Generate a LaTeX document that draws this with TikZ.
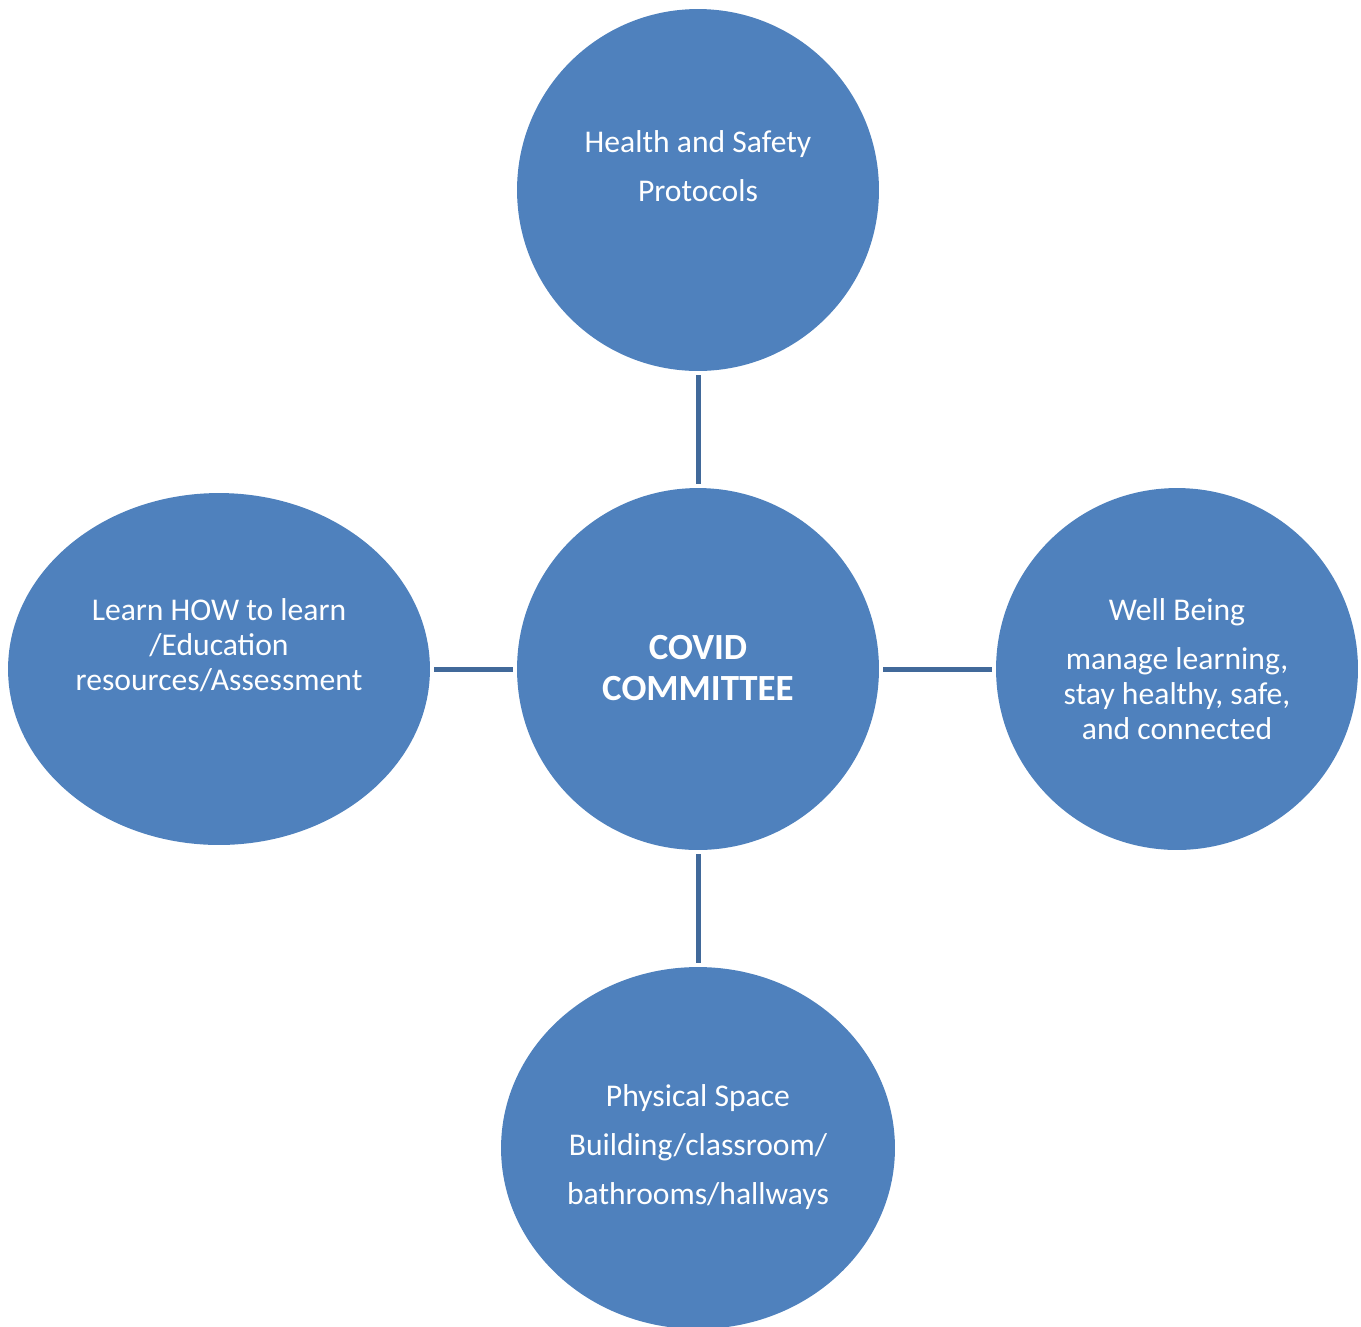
\documentclass[tikz,border=0pt]{standalone}
\usepackage{fontspec}
\setmainfont{Carlito}
\usetikzlibrary{shapes.geometric}
\definecolor{bubblefill}{HTML}{4F81BD}
\definecolor{linkline}{HTML}{41699A}
\tikzset{
  bubble/.style={ellipse,fill=bubblefill,inner sep=0pt,
    minimum width=7.24cm,minimum height=7.24cm},
  bubbletext/.style={text=white,align=center,inner sep=0pt,
    font=\fontsize{18}{20}\selectfont},
  link/.style={draw=linkline,line width=2.85pt,shorten <=0.08cm,shorten >=0.08cm}
}
\begin{document}
\begin{tikzpicture}[x=0.02cm,y=-0.02cm]
\useasboundingbox (0,0) rectangle (1361,1326);
\clip (0,0) rectangle (1361,1326);

% bubbles
\node[bubble] (safety) at (698,190) {};
\node[bubble] (covid) at (698,669) {};
\node[bubble] (wellbeing) at (1177,669) {};
\node[bubble,minimum width=8.44cm,minimum height=7.04cm] (learn) at (219,669) {};
\node[bubble,minimum width=7.88cm] (space) at (698,1148) {};

% texts
\node[bubbletext] (safetytext) at (698,166) {Health and Safety\\[8pt]Protocols};
\node[bubbletext,font=\fontsize{21}{23}\selectfont\bfseries] (covidtext) at (698,668) {COVID\\COMMITTEE};
\node[bubbletext] (wellbeingtext) at (1177,669) {Well Being\\[8pt]manage learning,\\stay healthy, safe,\\and connected};
\node[bubbletext] (learntext) at (219,645) {Learn HOW to learn\\/Education\\resources/Assessment};
\node[bubbletext] (spacetext) at (698,1147) {Physical Space\\[8pt]Building/classroom/\\[8pt]bathrooms/hallways};

% connectors
\draw[link] (covid) -- (safety);
\draw[link] (covid) -- (wellbeing);
\draw[link] (covid) -- (learn);
\draw[link] (covid) -- (space);
\end{tikzpicture}
\end{document}
